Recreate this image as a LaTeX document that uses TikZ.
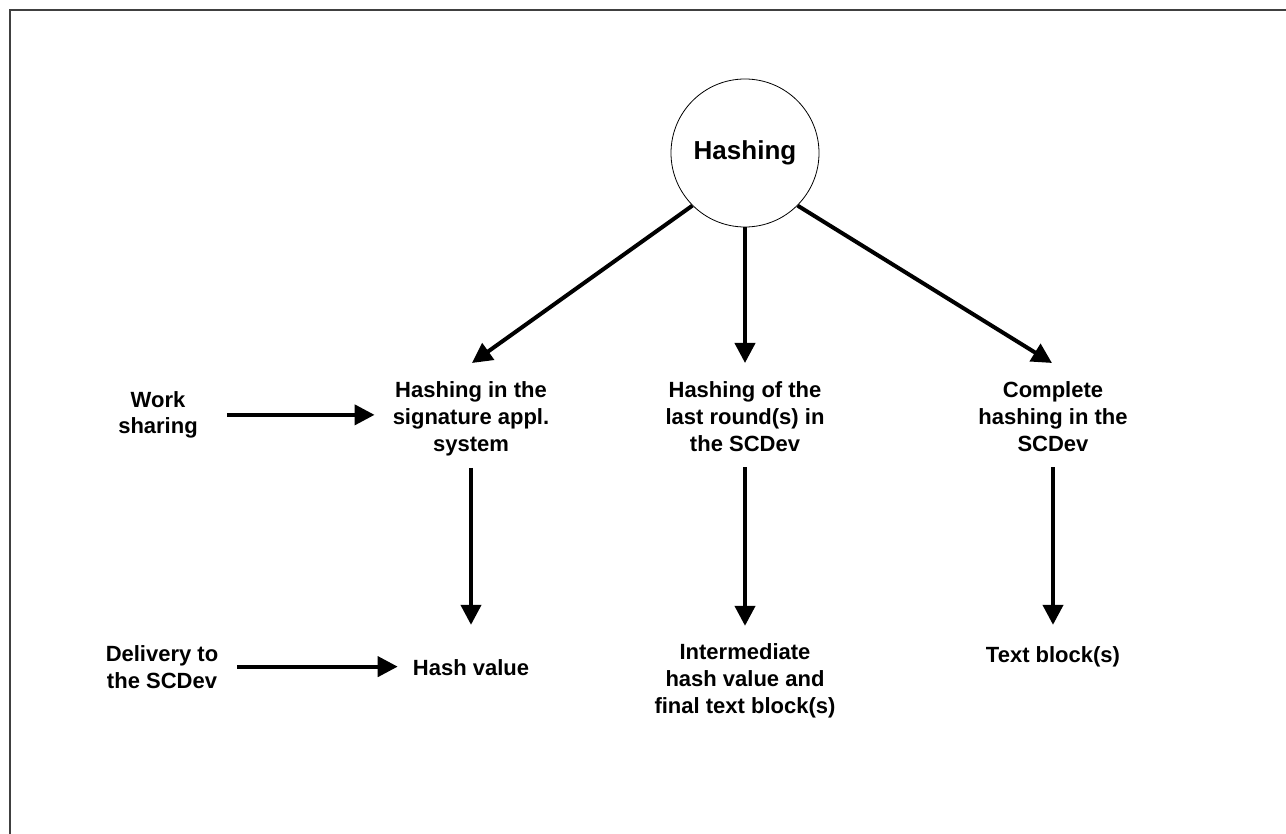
\documentclass[tikz,border=0pt]{standalone}
\usepackage{fontspec}
\setmainfont{Liberation Sans}
\usetikzlibrary{arrows.meta}
\tikzset{
  lbl/.style={font=\fontsize{22}{27}\selectfont\bfseries, align=center, inner sep=0pt},
  arr/.style={line width=4pt, -{Triangle[length=20pt,width=20pt]}},
}
\begin{document}
\begin{tikzpicture}[x=1pt,y=-1pt]
\useasboundingbox (0,0) rectangle (1286,834);
% frame
\draw[line width=2pt, black!75] (10,834) -- (10,10) -- (1286,10);
% top
\node[circle, draw, line width=0.8pt, minimum size=148pt, inner sep=0pt,
      font=\fontsize{26}{30}\selectfont\bfseries] (hash) at (745,153) {Hashing};
\coordinate (sigin) at (472,363);
\coordinate (lastin) at (745,363);
\coordinate (cplin) at (1052,363);
% middle row (base = last line)
\node[lbl, anchor=base] (work) at (158,434) {Work\\sharing};
\node[lbl, anchor=base] (sig) at (471,451) {Hashing in the\\signature appl.\\system};
\node[lbl, anchor=base] (last) at (745,451) {Hashing of the\\last round(s) in\\the SCDev};
\node[lbl, anchor=base] (cpl) at (1053,451) {Complete\\hashing in the\\SCDev};
% bottom row
\node[lbl, anchor=base] (deliv) at (162,688) {Delivery to\\the SCDev};
\node[lbl, anchor=base] (hv) at (471,675) {Hash value};
\node[lbl, anchor=base] (inter) at (745,713) {Intermediate\\hash value and\\final text block(s)};
\node[lbl, anchor=base] (tb) at (1053,662) {Text block(s)};
% arrows
\draw[arr] (hash.-135) -- (sigin);
\draw[arr] (hash.south) -- (lastin);
\draw[arr] (hash.-45) -- (cplin);
\draw[arr, shorten <=29pt, shorten >=18pt] (work.east) -- (work.east -| sig.west);
\draw[arr, shorten <=19pt, shorten >=15pt] (deliv.east) -- (deliv.east -| hv.west);
\draw[arr, shorten <=12pt, shorten >=34pt] (sig) -- (hv);
\draw[arr, shorten <=16pt, shorten >=17pt] (last) -- (inter);
\draw[arr, shorten <=16pt, shorten >=21pt] (cpl) -- (tb);
\end{tikzpicture}
\end{document}
